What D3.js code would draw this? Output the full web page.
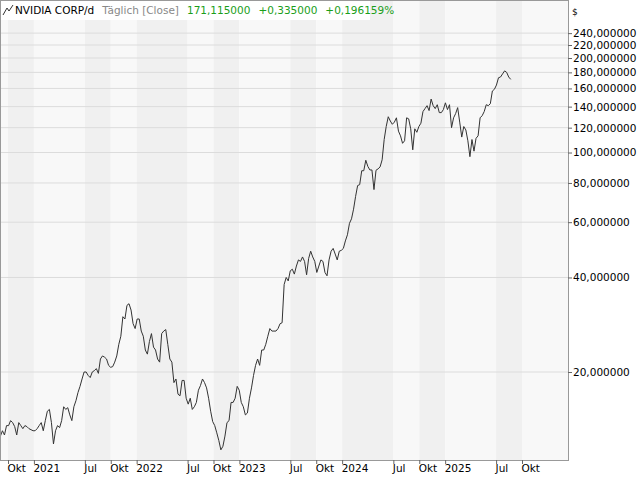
<!DOCTYPE html><html><head><meta charset="utf-8"><script src="https://cdn.jsdelivr.net/npm/d3@7"></script>
<style>body{margin:0;background:#fff}text{font-family:"DejaVu Sans",sans-serif}</style></head><body><svg id="c" width="640" height="480"></svg><script>
const startDate="2020-09-04", endDate="2025-08-22";
const closes=[12.5,13.0,12.6,13.5,
13.5,14.0,13.8,13.4,12.6, 13.8,13.5,13.2,13.5, 13.4,13.2,13.1,13.0,13.0,
13.2,13.5,13.8,13.0, 14.0,15.0,15.2,13.8, 11.8,13.0,13.5,13.3, 14.0,15.5,15.2,15.4, 14.6,14.0,15.5,16.2, 17.2,18.0,19.0,20.0, 20.0,19.5,19.2,20.0, 20.2,20.5,19.8,22.0, 22.5,22.3,22.0,21.0,20.7, 20.8,21.5,22.5,24.5, 26.0,30.0,29.5,32.6,33.0, 31.5,28.5,27.5,29.5,29.5,
27.0,26.0,23.5,22.8, 25.0,26.5,24.0,23.5, 22.0,21.5,26.5,27.0,27.3, 24.5,22.0,21.5,18.5, 19.0,17.0,16.8,18.8, 18.8,16.5,15.8,16.5,15.2, 15.5,16.0,17.5,18.1, 19.0,18.5,17.8,16.5,15.0, 13.9,13.5,12.8,12.1, 11.3,11.6,12.5,13.8, 14.0,16.0,16.0,16.5, 18.0,17.5,16.0,15.5,14.6,
14.8,16.5,17.8,19.5, 21.0,22.0,21.0,23.5, 23.5,24.5,26.0,27.5, 27.0,27.0,27.0,27.5, 28.5,28.7,38.0,40.0, 39.0,42.0,42.5,41.0, 43.5,45.5,45.0,46.5, 45.0,40.8,46.0,48.5, 46.5,45.0,41.5,43.5, 45.5,45.0,41.5,40.5, 45.5,48.5,49.5,47.5, 45.5,48.5,48.8,49.5,
52.3,54.7,59.5,61.5, 66.0,72.5,78.5,79.0, 87.5,87.5,94.5,90.3, 88.0,88.0,76.2,87.8, 88.7,90.0,94.8,110, 121,130,126,123, 125,129,117,113, 107,109,129,128,119, 102,119,116,121, 124,135,138,141, 136,148,141,138, 142,134,134,137,
144,137,142,120, 129,133,139,125, 112,121,118,109, 97,110,101,111, 113,129,131,135, 142,141,143,157, 159,164,173,174, 178,182,180,174,171];
const xTickDates=["2020-10-01","2021-01-01","2021-07-01","2021-10-01","2022-01-01","2022-07-01","2022-10-01","2023-01-01","2023-07-01","2023-10-01","2024-01-01","2024-07-01","2024-10-01","2025-01-01","2025-07-01","2025-10-01"];
const xTickLabels=["Okt","2021","Jul","Okt","2022","Jul","Okt","2023","Jul","Okt","2024","Jul","Okt","2025","Jul","Okt"];
const yTicks=[20,40,60,80,100,120,140,160,180,200,220,240];
const header=[["NVIDIA CORP/d","#000"],["Täglich [Close]","#888"],["171,115000","#1a9e1a"],["+0,335000","#1a9e1a"],["+0,196159%","#1a9e1a"]];

const svg=d3.select("#c");
const W=568,H=460;
const p=d3.timeParse("%Y-%m-%d");
const idx=d3.scaleLinear().domain([0,closes.length-1]).range([+p(startDate),+p(endDate)]);
const data=closes.map((v,i)=>({d:new Date(idx(i)),v}));
const x=d3.scaleTime().domain([p("2020-10-01"),p("2025-10-01")]).range([8,522]);
const y=d3.scaleLog().domain([200,20]).range([58,372]);
const tx=xTickDates.map(p);
const edges=[x.invert(0),...tx,x.invert(W)];
for(let i=0;i<edges.length-1;i++){
  svg.append("rect").attr("x",x(edges[i])).attr("y",0).attr("width",x(edges[i+1])-x(edges[i])).attr("height",H)
   .attr("fill",i%2===1?"#f0f0f0":"#f8f8f8");
}
yTicks.forEach(v=>svg.append("line").attr("x1",0).attr("x2",W).attr("y1",y(v)).attr("y2",y(v)).attr("stroke","#dcdcdc"));
svg.append("path").datum(data).attr("fill","none").attr("stroke","#333").attr("stroke-width",1)
 .attr("d",d3.line().x(d=>x(d.d)).y(d=>y(d.v)));
svg.append("rect").attr("x",0).attr("y",0).attr("width",370).attr("height",20).attr("fill","#fff");
svg.append("path").attr("d","M3,15 L7,8 L9,11 L13,5").attr("fill","none").attr("stroke","#333");
const ht=svg.append("text").attr("x",15).attr("y",14).attr("font-size",10.5);
header.forEach((h,i)=>ht.append("tspan").attr("fill",h[1]).attr("dx",i?8:0).text(h[0]));
svg.append("rect").attr("x",0.5).attr("y",0.5).attr("width",W).attr("height",H).attr("fill","none").attr("stroke","#999");
const ya=svg.append("g").attr("transform",`translate(${W},0)`).call(d3.axisRight(y).tickValues(yTicks).tickSize(4).tickPadding(1).tickFormat(v=>d3.format(",")(v)+",000000"));
ya.select(".domain").remove();
ya.selectAll("text").attr("font-size",10.5).attr("font-family","DejaVu Sans").attr("fill","#000");
ya.selectAll("line").attr("stroke","#666");
svg.append("text").attr("x",572).attr("y",15).attr("font-size",9).text("$");
const xa=svg.append("g").attr("transform",`translate(0,${H})`).call(d3.axisBottom(x).tickValues(tx).tickSize(4).tickPadding(1).tickFormat((d,i)=>xTickLabels[i]));
xa.select(".domain").remove();
xa.selectAll("text").attr("font-size",10.5).attr("font-family","DejaVu Sans").attr("fill","#000").attr("text-anchor","start").attr("dx",-1);
xa.selectAll("line").attr("stroke","#666");
</script></body></html>
